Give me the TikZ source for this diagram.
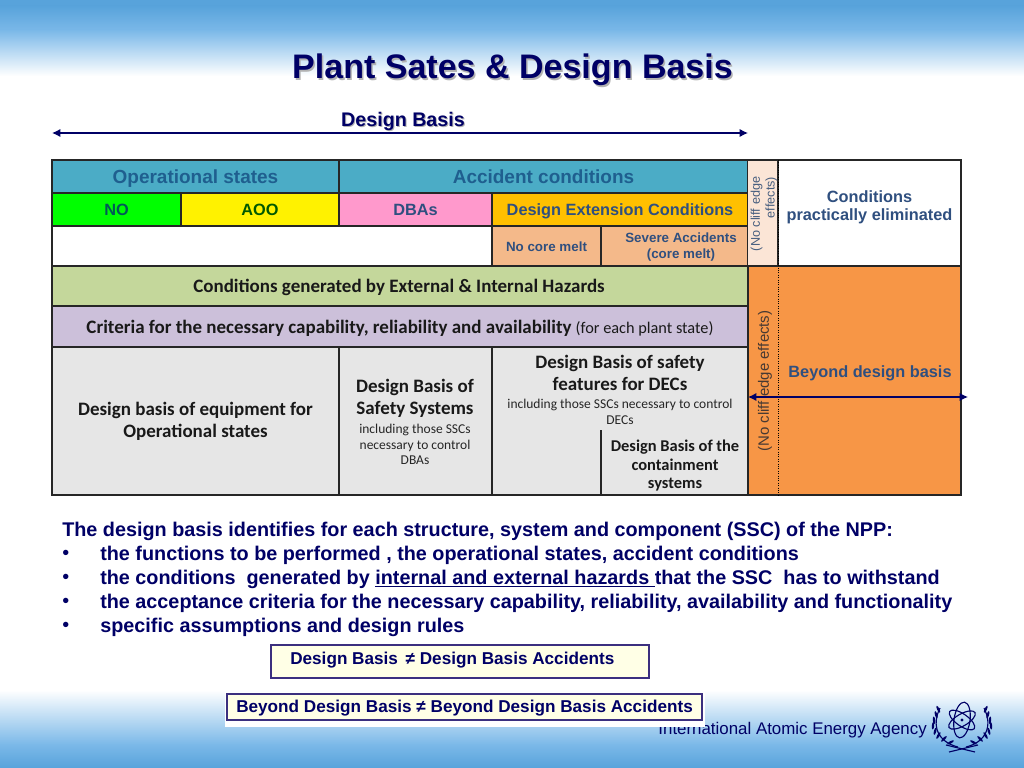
\documentclass[tikz,border=0pt]{standalone}
\usepackage{fontspec}
\setmainfont{Liberation Sans}
\newfontfamily\calibri{Carlito}
\usetikzlibrary{arrows.meta}
\definecolor{navytext}{HTML}{000066}
\definecolor{skyblue}{HTML}{58A3DB}
\definecolor{skylight}{HTML}{7AB8E8}
\definecolor{headblue}{HTML}{4BACC6}
\definecolor{headtext}{HTML}{1F5F8F}
\definecolor{slatetext}{HTML}{2F4F7F}
\definecolor{pinkcell}{HTML}{FF99CC}
\definecolor{goldcell}{HTML}{FFC000}
\definecolor{peachcell}{HTML}{F4B98A}
\definecolor{palepeach}{HTML}{FBE5D6}
\definecolor{greencell}{HTML}{C4D79B}
\definecolor{lilaccell}{HTML}{CCC0DA}
\definecolor{greycell}{HTML}{E6E6E6}
\definecolor{orangecell}{HTML}{F79646}
\definecolor{creambox}{HTML}{FFFFE6}
\definecolor{boxedge}{HTML}{3B2F7F}
\tikzset{
    cell/.style={draw=black!85,line width=0.85pt},
    headlabel/.style={font=\bfseries\fontsize{13.5}{16}\selectfont,text=headtext,text height=10.5pt,text depth=1pt},
    slatelabel/.style={font=\bfseries\fontsize{11.6}{12.8}\selectfont,text=slatetext,align=center},
    oneline/.style={text height=9.5pt,text depth=1.15pt},
    smalllabel/.style={font=\bfseries\fontsize{9.5}{11.4}\selectfont,text=slatetext,align=center},
    blacklabel/.style={font=\calibri\bfseries\fontsize{13.5}{15.6}\selectfont,text=black!90,align=center},
    tinylabel/.style={font=\calibri\fontsize{9.6}{11}\selectfont,text=black!85,align=center,anchor=north},
    bodyline/.style={anchor=west,inner sep=0pt,font=\bfseries\fontsize{14.08}{16}\selectfont,text=navytext},
    notebox/.style={draw=boxedge,line width=1pt,fill=creambox},
    notelabel/.style={font=\bfseries\fontsize{12.2}{14}\selectfont,text=navytext},
    spanarrow/.style={navytext,line width=1pt,{Latex[length=6pt,width=6pt]}-{Latex[length=6pt,width=6pt]}},
}
\begin{document}
\begin{tikzpicture}[x=0.025cm,y=-0.025cm]
    \useasboundingbox (0,0) rectangle (1024,768);
    % backdrop
    \fill[white] (0,0) rectangle (1024,768);
    \fill[skyblue] (0,0) rectangle (1024,6);
    \shade[top color=skyblue,bottom color=skylight] (0,6) rectangle (1024,30);
    \shade[top color=skylight,bottom color=white] (0,30) rectangle (1024,76);
    \shade[top color=white,bottom color=skylight] (0,690) rectangle (1024,745);
    \shade[top color=skylight,bottom color=skyblue] (0,745) rectangle (1024,768);

    % title
    \node[font=\bfseries\fontsize{24.2}{28}\selectfont,text=black!30] at (514,72) {Plant Sates \& Design Basis};
    \node[font=\bfseries\fontsize{24.2}{28}\selectfont,text=navytext] (title) at (512.5,70) {Plant Sates \& Design Basis};
    \node[font=\bfseries\fontsize{14}{16}\selectfont,text=black!30] at (404,122) {Design Basis};
    \node[font=\bfseries\fontsize{14}{16}\selectfont,text=navytext] (dbasis) at (403,121) {Design Basis};
    \coordinate (dbleft) at (52,133);
    \coordinate (dbright) at (748,133);
    \draw[spanarrow] (dbleft) -- (dbright);

    % table, top rows
    \draw[cell,fill=headblue] (52,160) rectangle (339,193) node[midway,headlabel] (opstates) {Operational states};
    \draw[cell,fill=headblue] (339,160) rectangle (748,193) node[midway,headlabel] (accident) {Accident conditions};
    \draw[cell,fill=green] (52,193) rectangle (181,226) node[midway,slatelabel,oneline,text=teal!70!black] (no) {NO};
    \draw[cell,fill=yellow] (181,193) rectangle (339,226) node[midway,slatelabel,oneline,text=green!35!black] (aoo) {AOO};
    \draw[cell,fill=pinkcell] (339,193) rectangle (492,226) node[midway,slatelabel,oneline] (dbas) {DBAs};
    \draw[cell,fill=goldcell] (492,193) rectangle (748,226) node[midway,slatelabel,oneline] (dec) {Design Extension Conditions};
    \draw[cell,fill=white] (52,226) rectangle (492,266);
    \draw[cell,fill=peachcell] (492,226) rectangle (601,266) node[midway,smalllabel,yshift=-0.02cm] (nomelt) {No core melt};
    \draw[cell,fill=peachcell] (601,226) rectangle (748,266);
    \node[smalllabel] (severe) at (681,247) {Severe Accidents\\(core melt)};

    % right columns
    \fill[palepeach] (748,160) rectangle (778,266);
    \draw[cell,fill=white] (778,160) rectangle (961,266) node[midway,slatelabel,yshift=0.15cm] (practical) {Conditions\\practically eliminated};
    \draw[cell,fill=orangecell] (748,266) rectangle (961,495);
    \draw[black,densely dotted,line width=0.7pt] (778,160) -- (778,495);
    \draw[cell] (748,160) -- (778,160);
    \node[font=\fontsize{9}{10.4}\selectfont,text=slatetext!70!gray,rotate=90,align=right] (cliffupper) at (764,214) {(No cliff edge\\effects)};
    \node[font=\fontsize{10.65}{14}\selectfont,text=slatetext!50!black!80!orange,rotate=90] (clifflower) at (765,381) {(No cliff edge effects)};
    \node[slatelabel] (beyond) at (870,373) {Beyond design basis};
    \coordinate (bdleft) at (748,397);
    \coordinate (bdright) at (968,397);
    \draw[spanarrow] (bdleft) -- (bdright);

    % hazards and criteria
    \draw[cell,fill=greencell] (52,266) rectangle (748,306);
    \node[blacklabel] (hazards) at (399,287) {Conditions generated by External \& Internal Hazards};
    \draw[cell,fill=lilaccell] (52,306) rectangle (748,347);
    \node[blacklabel] (criteria) at (400,328) {Criteria for the necessary capability, reliability and availability {\mdseries\fontsize{11.6}{12}\selectfont (for each plant state)}};

    % design basis row
    \draw[cell,fill=greycell] (52,347) rectangle (339,495) node[midway,blacklabel] (equipment) {Design basis of equipment for\\Operational states};
    \draw[cell,fill=greycell] (339,347) rectangle (492,495);
    \draw[cell,fill=greycell] (492,347) rectangle (748,495);
    \draw[cell] (601,430) -- (601,495);
    \node[blacklabel] (safety) at (415,398) {Design Basis of\\Safety Systems};
    \node[tinylabel,inner sep=0pt] (safetynote) at (415,424) {including those SSCs\\necessary to control\\DBAs};
    \node[blacklabel] (features) at (620,373) {Design Basis of safety\\features for DECs};
    \node[tinylabel,inner sep=0pt] (featuresnote) at (620,399) {including those SSCs necessary to control\\DECs};
    \node[font=\calibri\bfseries\fontsize{11.7}{13.2}\selectfont,text=black!90,align=center,anchor=north,inner sep=0pt] (contain) at (675,440) {Design Basis of the\\containment\\systems};

    % explanation
    \node[bodyline] (intro) at (62,531) {The design basis identifies for each structure, system and component (SSC) of the NPP:};
    \foreach \yrow/\linetext in {555/{the functions to be performed , the operational states, accident conditions},
        579/{the conditions\ \ generated by \underline{internal and external hazards }that the SSC\ \ has to withstand},
        603/{the acceptance criteria for the necessary capability, reliability, availability and functionality},
        627/{specific assumptions and design rules}} {
        \node[bodyline,font=\fontsize{14.08}{16}\selectfont] at (62,\yrow) {•};
        \node[bodyline] at (100,\yrow) {\linetext};
    }

    % footer text sits under the white patch
    \node[anchor=east,inner sep=0pt,font=\fontsize{12}{14}\selectfont,text=navytext] (iaea) at (927,730) {International Atomic Energy Agency};
    \fill[white] (225,692) rectangle (705,727);

    % notes
    \draw[notebox] (271,645) rectangle (649,678);
    \node[notelabel,anchor=west,inner sep=0pt] (notedb) at (290,660) {Design Basis \,≠ Design Basis Accidents};
    \draw[notebox] (227,694) rectangle (702,720);
    \node[notelabel,anchor=west,inner sep=0pt] (notebdb) at (236,708) {Beyond Design Basis ≠ Beyond Design Basis Accidents};

    % emblem
    \begin{scope}[navytext,line width=0.8pt]
        \draw[rotate around={-8:(962,720)}] (962,720) ellipse (8 and 18);
        \draw[rotate around={30:(962,720)}] (962,720) ellipse (15 and 6);
        \draw[rotate around={-35:(962,720)}] (962,720) ellipse (15 and 6);
        \fill (962,720) circle (1.6);
        \draw (940,708) .. controls (931,726) and (938,742) .. (958,747);
        \draw (984,708) .. controls (993,726) and (986,742) .. (966,747);
        \draw (946,745) -- (975,752);
        \draw (978,745) -- (949,752);
        \foreach \yleaf/\xleaf/\tilt in {708/941/25,714/939/15,720/937/5,726/936/-5,732/938/-15,737/941/-30,741/946/-45,745/952/-60} {
            \fill[rotate around={\tilt:(\xleaf,\yleaf)}] (\xleaf-3,\yleaf) ellipse (1.2 and 3.8);
            \fill[rotate around={-\tilt:(1924-\xleaf,\yleaf)}] (1927-\xleaf,\yleaf) ellipse (1.2 and 3.8);
        }
    \end{scope}
\end{tikzpicture}
\end{document}
